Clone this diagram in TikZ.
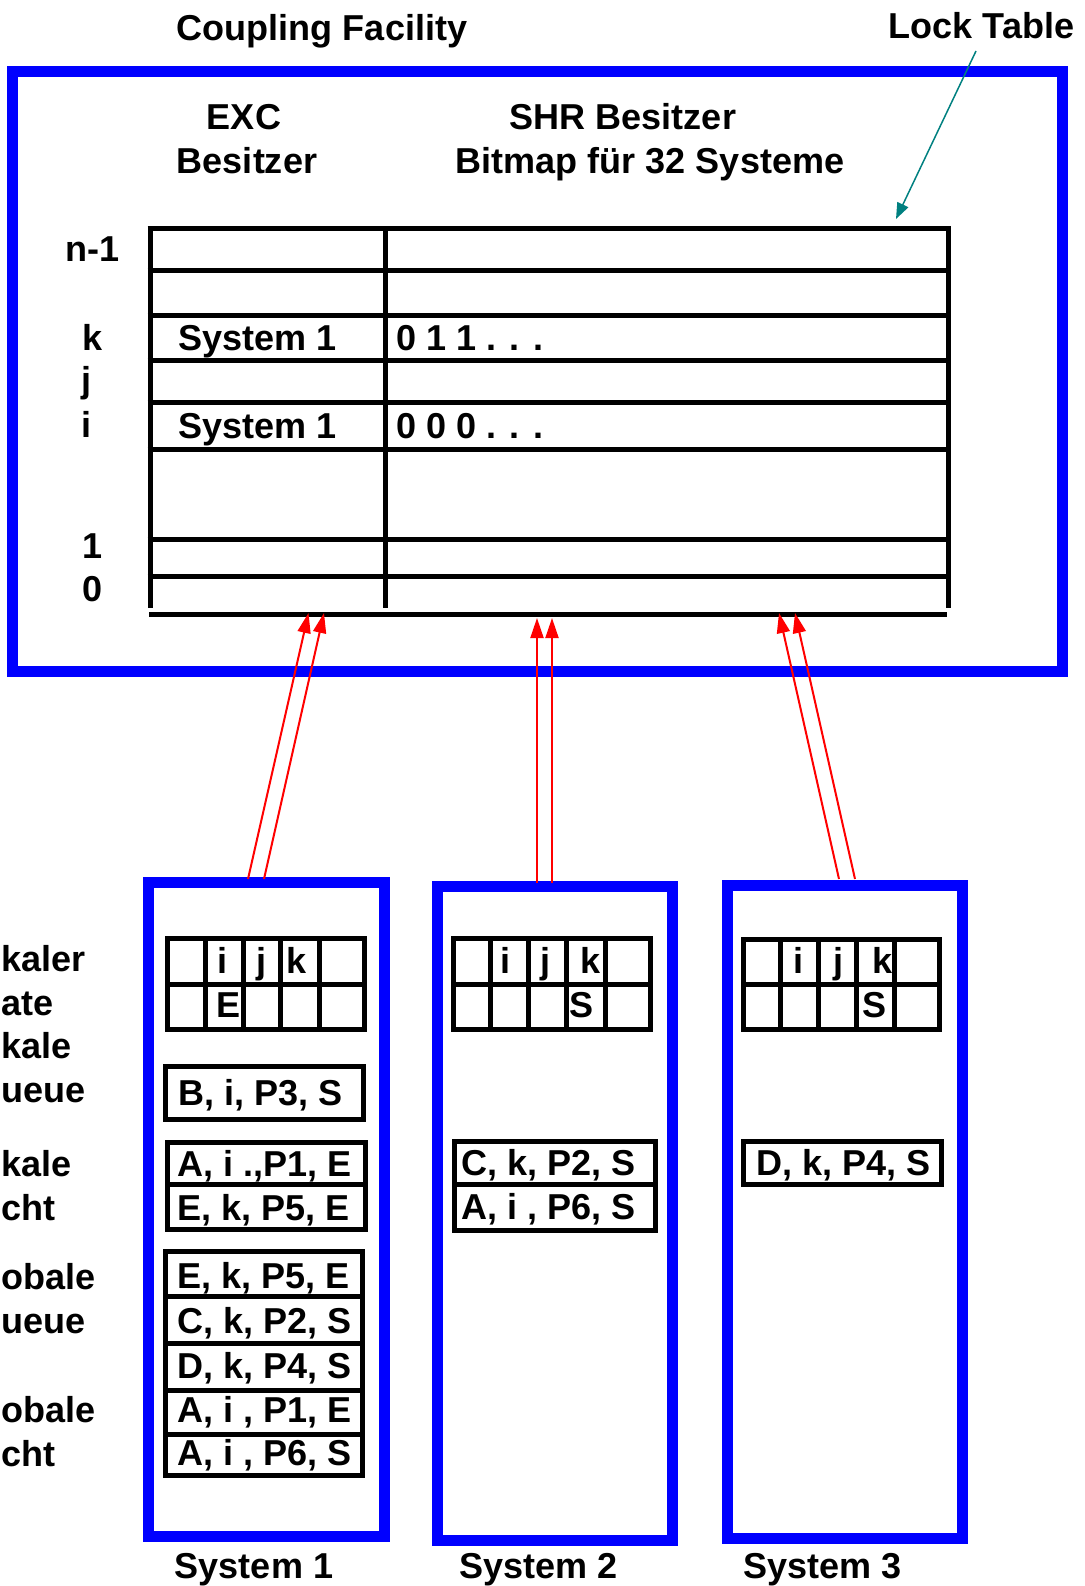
\documentclass[tikz,border=0pt]{standalone}
\usepackage{fontspec}
\setmainfont{Liberation Sans}
\usetikzlibrary{arrows.meta,positioning}
\definecolor{lockteal}{RGB}{0,128,128}

\tikzset{
	bluebox/.style={draw=blue, line width=0.22cm},
	cell/.style={draw=black, line width=0.1cm},
	txt/.style={font=\bfseries\fontsize{20.5}{24}\selectfont, inner sep=0pt},
	req/.style={red, line width=0.04cm, ->},
}

\begin{document}
\begin{tikzpicture}[x=0.02cm, y=-0.02cm, >={Triangle[length=0.4cm, width=0.26cm]}]
								\useasboundingbox (0,0) rectangle (1085,1586);

								% coupling facility
								\draw[bluebox] (12.5,71) rectangle (1062.5,671);
								\node[txt, anchor=base] (cf) at (322,40) {Coupling Facility};
								\node[txt, anchor=base] (lt) at (981.5,38) {Lock Table};
								\node[txt, anchor=base] (exc) at (244,129) {EXC};
								\node[txt, anchor=base] (excb) at (247,173) {Besitzer};
								\node[txt, anchor=base] (shr) at (623,129) {SHR Besitzer};
								\node[txt, anchor=base] (shrb) at (650,173) {Bitmap für 32 Systeme};

								% lock table
								\foreach \y in {228,270.5,315,360.5,402,449.5,539,576.5}
									\draw[cell] (147.5,\y) -- (950.5,\y);
								\draw[cell] (149,614.5) -- (947,614.5);
								\foreach \x in {150,385.5,948}
									\draw[cell] (\x,228) -- (\x,608);

								\node[txt, anchor=base] (rn) at (93,261) {n-1};
								\node[txt, anchor=base] (rk) at (93,350) {k};
								\node[txt, anchor=base] (rj) at (87,392) {j};
								\node[txt, anchor=base] (ri) at (87,437) {i};
								\node[txt, anchor=base] (r1) at (93,558) {1};
								\node[txt, anchor=base] (r0) at (93,601) {0};

								\node[txt, anchor=base west] (ek) at (178,350) {System 1};
								\node[txt, anchor=base west] (sk) at (396,350) {0 1 1 . . .};
								\node[txt, anchor=base west] (ei) at (178,438) {System 1};
								\node[txt, anchor=base west] (si) at (396,438) {0 0 0 . . .};

								\coordinate (ltfrom) at (976,51);
								\coordinate (ltto) at (896,219);
								\draw[lockteal, line width=0.03cm, -{Triangle[length=0.32cm, width=0.24cm]}] (ltfrom) -- (ltto);

								% systems
								\draw[bluebox] (148.5,882.5) rectangle (384.5,1536);
								\draw[bluebox] (437,886) rectangle (672,1540);
								\draw[bluebox] (727,885) rectangle (962,1538);
								\node[txt, anchor=base] (sys1) at (254,1578) {System 1};
								\node[txt, anchor=base] (sys2) at (538.5,1578) {System 2};
								\node[txt, anchor=base] (sys3) at (822.5,1578) {System 3};

								% local state grids
								\foreach \y in {938.5,984.5,1029.5}
									\draw[cell] (165,\y) -- (367,\y);
								\foreach \x in {167.5,205,243,280.5,319,364.5}
									\draw[cell] (\x,938.5) -- (\x,1029.5);
								\foreach \y in {938.5,984,1029.5}
									\draw[cell] (451,\y) -- (652.5,\y);
								\foreach \x in {453.5,490.5,528.5,566.5,605,650}
									\draw[cell] (\x,938.5) -- (\x,1029.5);
								\foreach \y in {939,984.5,1029.5}
									\draw[cell] (741,\y) -- (942,\y);
								\foreach \x in {743.5,780.5,818.5,856,894,939.5}
									\draw[cell] (\x,939) -- (\x,1029.5);

								\node[txt, anchor=base] (g1i) at (222.5,973) {i};
								\node[txt, anchor=base] (g1j) at (262,973) {j};
								\node[txt, anchor=base] (g1k) at (296.5,973) {k};
								\node[txt, anchor=base] (g1e) at (229,1017) {E};
								\node[txt, anchor=base] (g2i) at (505.5,973) {i};
								\node[txt, anchor=base] (g2j) at (545,973) {j};
								\node[txt, anchor=base] (g2k) at (590.5,973) {k};
								\node[txt, anchor=base] (g2s) at (582,1017) {S};
								\node[txt, anchor=base] (g3i) at (798.5,973) {i};
								\node[txt, anchor=base] (g3j) at (838,973) {j};
								\node[txt, anchor=base] (g3k) at (883,973) {k};
								\node[txt, anchor=base] (g3s) at (874.5,1017) {S};

								% queues and views
								\draw[cell] (165,1066.5) rectangle (363.5,1119.5);
								\node[txt, anchor=base west] (q1) at (178,1105) {B, i, P3, S};

								\draw[cell] (167,1142.5) rectangle (365.5,1229);
								\draw[cell] (167,1184.5) -- (365.5,1184.5);
								\node[txt, anchor=base west] (v1a) at (177,1176) {A, i .,P1, E};
								\node[txt, anchor=base west] (v1b) at (177,1220) {E, k, P5, E};

								\draw[cell] (165.5,1251.5) rectangle (362.5,1475.5);
								\foreach \y in {1296,1343,1390,1434}
									\draw[cell] (165.5,\y) -- (362.5,\y);
								\node[txt, anchor=base west] (gq1) at (177,1288) {E, k, P5, E};
								\node[txt, anchor=base west] (gq2) at (177,1333) {C, k, P2, S};
								\node[txt, anchor=base west] (gq3) at (177,1378) {D, k, P4, S};
								\node[txt, anchor=base west] (gv1) at (177,1422) {A, i , P1, E};
								\node[txt, anchor=base west] (gv2) at (177,1465) {A, i , P6, S};

								\draw[cell] (454,1141) rectangle (655,1230.5);
								\draw[cell] (454,1184.5) -- (655,1184.5);
								\node[txt, anchor=base west] (v2a) at (461,1175) {C, k, P2, S};
								\node[txt, anchor=base west] (v2b) at (461,1219) {A, i , P6, S};

								\draw[cell] (743,1141.5) rectangle (941.5,1184.5);
								\node[txt, anchor=base west] (v3a) at (756,1175) {D, k, P4, S};

								% labels at the left edge
								\node[txt, anchor=base west] (la) at (1,971) {kaler};
								\node[txt, anchor=base west] (lb) at (1,1015) {ate};
								\node[txt, anchor=base west] (lc) at (1,1058) {kale};
								\node[txt, anchor=base west] (ld) at (1,1102) {ueue};
								\node[txt, anchor=base west] (le) at (1,1176) {kale};
								\node[txt, anchor=base west] (lf) at (1,1220) {cht};
								\node[txt, anchor=base west] (lg) at (1,1289) {obale};
								\node[txt, anchor=base west] (lh) at (1,1333) {ueue};
								\node[txt, anchor=base west] (li) at (1,1422) {obale};
								\node[txt, anchor=base west] (lj) at (1,1466) {cht};

								% lock requests
								\coordinate (s1a) at (248,879);
								\coordinate (s1b) at (264,879);
								\coordinate (t1a) at (308.5,613);
								\coordinate (t1b) at (324,613);
								\coordinate (s2a) at (537,883);
								\coordinate (s2b) at (552,883);
								\coordinate (t2a) at (537,618);
								\coordinate (t2b) at (552,618);
								\coordinate (s3a) at (839,879);
								\coordinate (s3b) at (855,879);
								\coordinate (t3a) at (779,613);
								\coordinate (t3b) at (795,613);
								\draw[req] (s1a) to (t1a);
								\draw[req] (s1b) to (t1b);
								\draw[req] (s2a) to (t2a);
								\draw[req] (s2b) to (t2b);
								\draw[req] (s3a) to (t3a);
								\draw[req] (s3b) to (t3b);

							\end{tikzpicture}
\end{document}
